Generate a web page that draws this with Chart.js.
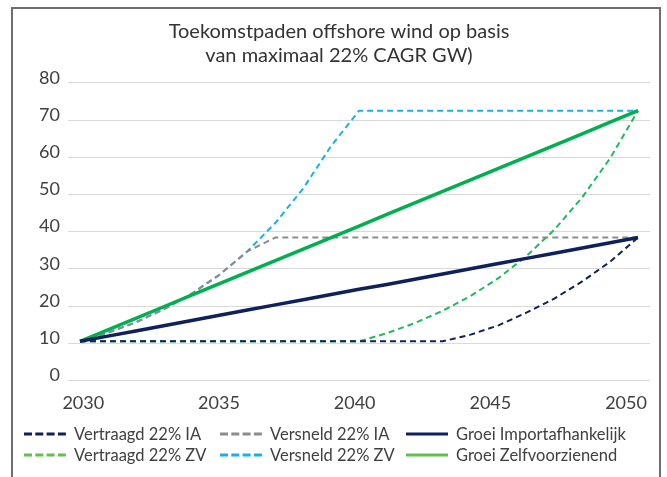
<!DOCTYPE html>
<html>
<head>
<meta charset="utf-8">
<script src="https://cdn.jsdelivr.net/npm/chart.js@4"></script>
<style>
  body { margin: 0; background: #fff; }
  #wrap { position: relative; width: 667px; height: 477px; overflow: hidden; }
  #frame { position: absolute; left: 11px; top: 7px; width: 646px; height: 490px; border: 2px solid #6e6e6e; }
  #chartBox { position: absolute; left: 0; top: 0; width: 667px; height: 438px; }
  #legend { position: absolute; left: 0; top: 0; width: 667px; height: 477px; font-family: Lato, sans-serif; font-size: 16.5px; color: #404040; }
  .item { position: absolute; display: flex; align-items: center; white-space: nowrap; height: 20px; }
  .item svg { margin-right: 8px; }
</style>
</head>
<body>
<div id="wrap">
  <div id="frame"></div>
  <div id="chartBox"><canvas id="windChart"></canvas></div>
  <div id="legend"></div>
</div>
<script>
// years on the x axis
const years = [2030, 2031, 2032, 2033, 2034, 2035, 2036, 2037, 2038, 2039, 2040,
               2041, 2042, 2043, 2044, 2045, 2046, 2047, 2048, 2049, 2050];
const yearLabels = [2030, 2035, 2040, 2045, 2050];

// GW per scenario
const vertraagdIA = [10.5, 10.5, 10.5, 10.5, 10.5, 10.5, 10.5, 10.5, 10.5, 10.5, 10.5,
                     10.5, 10.5, 10.5, 12.3, 14.8, 18.2, 22.0, 26.6, 31.9, 38.4];
const versneldIA = [10.5, 12.8, 15.6, 19.1, 23.3, 28.4, 34.7, 38.4, 38.4, 38.4, 38.4,
                    38.4, 38.4, 38.4, 38.4, 38.4, 38.4, 38.4, 38.4, 38.4, 38.4];
const groeiIA = [10.5, 11.9, 13.3, 14.7, 16.1, 17.5, 18.9, 20.3, 21.7, 23.1, 24.5,
                 25.8, 27.2, 28.6, 30.0, 31.4, 32.8, 34.2, 35.6, 37.0, 38.4];
const vertraagdZV = [10.5, 10.5, 10.5, 10.5, 10.5, 10.5, 10.5, 10.5, 10.5, 10.5, 10.5,
                     12.7, 15.4, 18.7, 22.7, 27.5, 33.4, 40.5, 49.2, 59.7, 72.5];
const versneldZV = [10.5, 12.8, 15.6, 19.1, 23.3, 28.4, 34.7, 42.3, 51.6, 63.0, 72.5,
                    72.5, 72.5, 72.5, 72.5, 72.5, 72.5, 72.5, 72.5, 72.5, 72.5];
const groeiZV = [10.5, 13.6, 16.7, 19.8, 22.9, 26.0, 29.1, 32.2, 35.3, 38.4, 41.5,
                 44.6, 47.7, 50.8, 53.9, 57.0, 60.1, 63.2, 66.3, 69.4, 72.5];

const seriesNames = ['Vertraagd 22% IA', 'Versneld 22% IA', 'Groei Importafhankelijk',
                     'Vertraagd 22% ZV', 'Versneld 22% ZV', 'Groei Zelfvoorzienend'];

const FONT = 'Lato, sans-serif';
const TEXT = '#404040';

function dashed(label, data, color) {
    return {
        label: label, data: data, xAxisID: 'x',
        borderColor: color, borderWidth: 2, borderDash: [6, 4],
        pointRadius: 0, tension: 0, order: 1
    };
}
function solid(label, data, color) {
    return {
        label: label, data: data, xAxisID: 'x',
        borderColor: color, borderWidth: 3.5,
        pointRadius: 0, tension: 0, order: 0
    };
}

const ctx = document.getElementById('windChart').getContext('2d');
const windChart = new Chart(ctx, {
    type: 'line',
    data: {
        labels: years,
        datasets: [
            dashed(seriesNames[0], vertraagdIA, '#10215c'),
            dashed(seriesNames[1], versneldIA, '#8c8c8c'),
            solid(seriesNames[2], groeiIA, '#0f205c'),
            dashed(seriesNames[3], vertraagdZV, '#22b85c'),
            dashed(seriesNames[4], versneldZV, '#19afee'),
            solid(seriesNames[5], groeiZV, '#00b050')
        ]
    },
    options: {
        responsive: true,
        maintainAspectRatio: false,
        animation: false,
        layout: { padding: { left: 28, right: 17, top: 0, bottom: 12 } },
        plugins: {
            legend: { display: false },
            tooltip: { enabled: false },
            title: {
                display: true,
                text: ['Toekomstpaden offshore wind op basis', 'van maximaal 22% CAGR GW)'],
                color: '#333333',
                font: { family: FONT, size: 20, weight: 'normal', lineHeight: 1.17 },
                padding: { top: 20, bottom: 16 }
            }
        },
        scales: {
            x: {
                type: 'linear',
                min: 2029.57,
                max: 2050.43,
                display: false
            },
            yearTicks: {
                type: 'linear',
                axis: 'x',
                position: 'bottom',
                min: 2029.436,
                max: 2050.884,
                afterBuildTicks: (scale) => {
                    scale.ticks = yearLabels.map(v => ({ value: v }));
                },
                grid: { display: false, drawTicks: false },
                border: { display: false },
                ticks: {
                    color: TEXT,
                    padding: 12,
                    maxRotation: 0,
                    autoSkip: false,
                    font: { family: FONT, size: 18 },
                    callback: (v) => String(v)
                }
            },
            y: {
                min: 0,
                max: 80,
                afterFit: (scale) => { scale.width = 40; },
                grid: { color: '#d9d9d9', lineWidth: 1, drawTicks: false },
                border: { display: false },
                ticks: {
                    stepSize: 10,
                    color: TEXT,
                    padding: 8,
                    labelOffset: -5,
                    font: { family: FONT, size: 18 }
                }
            }
        }
    }
});

// legend below the chart, three columns
const legendCols = [24, 220, 406];
const legendRows = [424, 445];
const legendColors = ['#0f205c', '#8c8c8c', '#0f205c', '#63be4f', '#19afee', '#63be4f'];
const legendDashed = [true, true, false, true, true, false];
const legendBox = document.getElementById('legend');
seriesNames.forEach((name, i) => {
    const item = document.createElement('div');
    item.className = 'item';
    item.style.left = legendCols[i % 3] + 'px';
    item.style.top = legendRows[Math.floor(i / 3)] + 'px';
    const dash = legendDashed[i] ? ' stroke-dasharray="8 3.3"' : '';
    item.innerHTML = '<svg width="42" height="6"><line x1="0" y1="3" x2="42" y2="3" stroke="' +
        legendColors[i] + '" stroke-width="3"' + dash + '/></svg><span>' + name + '</span>';
    legendBox.appendChild(item);
});
</script>
</body>
</html>
